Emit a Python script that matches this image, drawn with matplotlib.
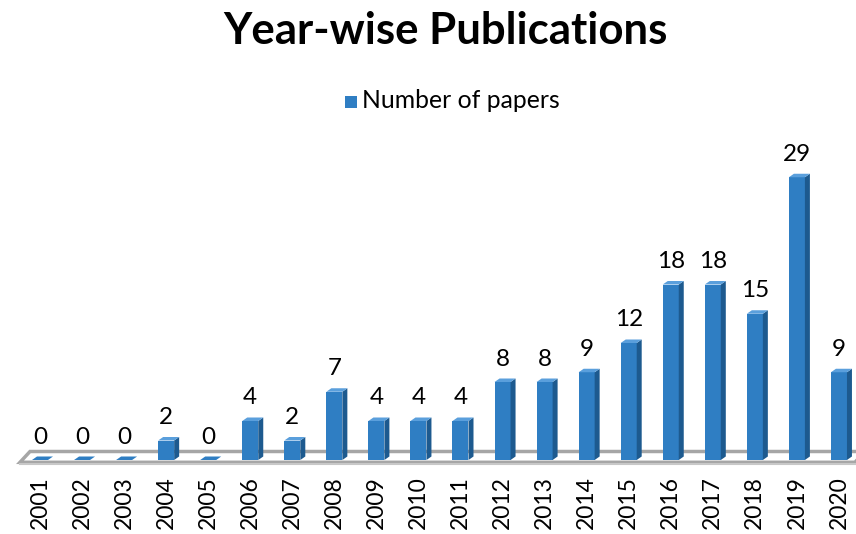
import matplotlib
matplotlib.use("Agg")
import matplotlib.pyplot as plt
from matplotlib.patches import Polygon, Rectangle

years = [str(y) for y in range(2001, 2021)]
papers = [0, 0, 0, 2, 0, 4, 2, 7, 4, 4, 4, 8, 8, 9, 12, 18, 18, 15, 29, 9]
series_name = "Number of papers"
title = "Year-wise Publications"

FRONT = "#2f7ec3"
SIDE = "#1d5a8f"
TOP = "#5a9fdc"
FLOOR_EDGE = "#a6a6a6"

plt.rcParams['font.family'] = ['Lato', 'DejaVu Sans']

W, H = 856, 534
fig = plt.figure(figsize=(W / 100, H / 100), dpi=100)
ax = fig.add_axes([0, 0, 1, 1])
ax.set_axis_off()

sp = 42.05          # px per category
x0px = 40           # px of first category
ypx = 9.75          # px per unit
base_px = 74        # px from bottom of the baseline
ax.set_xlim(-x0px / sp, (W - x0px) / sp)
ax.set_ylim(-base_px / ypx, (H - base_px) / ypx)

hw = 8 / sp        # half front width
dx = 5 / sp        # depth x
dy = 3.5 / ypx     # depth y

# floor
n = len(years)
fl_l, fl_r = -20 / sp, n - 1 + 16 / sp
fy0 = -2.3 / ypx
fy1 = 8.5 / ypx
floor = Polygon([(fl_l, fy0), (fl_r, fy0), (fl_r + 10 / sp, fy1), (fl_l + 10 / sp, fy1)],
                closed=True, facecolor="white", edgecolor=FLOOR_EDGE, lw=2.5, zorder=1)
ax.add_patch(floor)
ax.plot([fl_l, fl_r], [fy0 - 1.8 / ypx, fy0 - 1.8 / ypx], color="#c8c8c8", lw=1.5, zorder=1)

for i, v in enumerate(papers):
    l, r = i - hw, i + hw
    if v > 0:
        ax.add_patch(Polygon([(l, 0), (r, 0), (r, v), (l, v)], closed=True,
                             facecolor=FRONT, edgecolor="none", zorder=3))
        ax.add_patch(Polygon([(r, 0), (r + dx, dy), (r + dx, v + dy), (r, v)], closed=True,
                             facecolor=SIDE, edgecolor="none", zorder=3))
        ax.add_patch(Polygon([(l, v), (r, v), (r + dx, v + dy), (l + dx, v + dy)], closed=True,
                             facecolor=TOP, edgecolor="none", zorder=3))
    else:
        ax.add_patch(Polygon([(l, 0), (r, 0), (r + dx, dy), (l + dx, dy)], closed=True,
                             facecolor=FRONT, edgecolor="none", zorder=3))
    ax.text(i, v + 23 / ypx, str(v), ha="center", va="center", fontsize=17.5, color="black")
    ax.text(i, -16 / ypx, years[i], ha="center", va="top", rotation=90, fontsize=16.5, color="black")

fig.text(445 / W, 1 - 31 / H, title, ha="center", va="center", fontsize=31.5, fontweight="bold")
fig.patches.append(Rectangle((345 / W, 1 - 108 / H), 12 / W, 12 / H, transform=fig.transFigure,
                             facecolor=FRONT, edgecolor="none"))
fig.text(362 / W, 1 - 101 / H, series_name, ha="left", va="center", fontsize=17.8)

fig.savefig("out.png", dpi=100)
